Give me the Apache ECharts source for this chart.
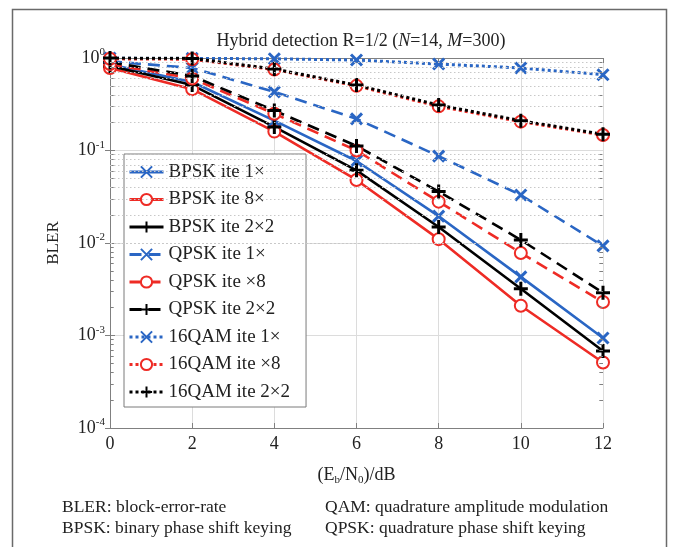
<!DOCTYPE html>
<html><head><meta charset="utf-8">
<script src="https://cdn.jsdelivr.net/npm/echarts@6/dist/echarts.min.js"></script>
<style>html,body{margin:0;padding:0;background:#fff}#c{width:674px;height:547px}</style>
</head><body><div id="c"></div>
<script>
const snr = [0, 2, 4, 6, 8, 10, 12];
const bpsk1  = [0.85, 0.55, 0.21, 0.077, 0.0195, 0.0043, 0.00094];
const bpsk8  = [0.78, 0.46, 0.16, 0.048, 0.011, 0.0021, 0.00051];
const bpsk22 = [0.82, 0.51, 0.18, 0.061, 0.0149, 0.0032, 0.00068];
const qpsk1  = [0.92, 0.78, 0.43, 0.22, 0.087, 0.033, 0.0093];
const qpsk8  = [0.86, 0.60, 0.25, 0.10, 0.028, 0.0078, 0.0023];
const qpsk22 = [0.90, 0.64, 0.27, 0.112, 0.036, 0.0108, 0.0029];
const qam1   = [1.0, 0.99, 0.98, 0.95, 0.86, 0.78, 0.66];
const qam8   = [0.98, 0.97, 0.75, 0.50, 0.30, 0.205, 0.147];
const qam22  = [1.0, 0.99, 0.76, 0.51, 0.31, 0.21, 0.15];
const xTicks = [0, 2, 4, 6, 8, 10, 12];
const minorY = [2e-4,3e-4,4e-4,5e-4,6e-4,7e-4,8e-4,9e-4,2e-3,3e-3,4e-3,5e-3,6e-3,7e-3,8e-3,9e-3,2e-2,3e-2,4e-2,5e-2,6e-2,7e-2,8e-2,9e-2,0.2,0.3,0.4,0.5,0.6,0.7,0.8,0.9];
const names = ['BPSK ite 1×','BPSK ite 8×','BPSK ite 2×2','QPSK ite 1×','QPSK ite ×8','QPSK ite 2×2','16QAM ite 1×','16QAM ite ×8','16QAM ite 2×2'];
const footnotes = ['BLER: block-error-rate', 'BPSK: binary phase shift keying', 'QAM: quadrature amplitude modulation', 'QPSK: quadrature phase shift keying'];

const FONT = 'Liberation Serif';
const BLUE = '#2a66c4', RED = '#ee2b25', BLACK = '#000';
const X_SYM = 'path://M0,0L10,10M10,0L0,10';
const P_SYM = 'path://M5,0L5,10M0,5L10,5';
const DASH = [12, 7], DOT = [3, 3];

function mk(name, vals, color, sym, lineType, lw) {
  const isCircle = sym === 'emptyCircle';
  return {
    name, type: 'line', z: 3,
    data: snr.map((x, i) => [x, vals[i]]),
    symbol: sym,
    symbolSize: isCircle ? 12 : (sym === P_SYM ? 14 : 11),
    showAllSymbol: true,
    lineStyle: { color, width: lw, type: lineType, cap: 'butt' },
    itemStyle: isCircle ? { color, borderColor: color, borderWidth: 2.2 } : { color, borderColor: color, borderWidth: 3 },
    emphasis: { disabled: true }
  };
}
const series = [
  mk(names[0], bpsk1, BLUE, X_SYM, 'solid', 2.6),
  mk(names[1], bpsk8, RED, 'emptyCircle', 'solid', 2.6),
  mk(names[2], bpsk22, BLACK, P_SYM, 'solid', 2.6),
  mk(names[3], qpsk1, BLUE, X_SYM, DASH, 2.6),
  mk(names[4], qpsk8, RED, 'emptyCircle', DASH, 2.6),
  mk(names[5], qpsk22, BLACK, P_SYM, DASH, 2.6),
  mk(names[6], qam1, BLUE, X_SYM, DOT, 3),
  mk(names[7], qam8, RED, 'emptyCircle', DOT, 3),
  mk(names[8], qam22, BLACK, P_SYM, DOT, 3)
];
const legendLW = [3, 3, 3, 3, 3, 3, 3, 3, 3];
const minorTickData = [];
minorY.forEach(v => {
  minorTickData.push([{ coord: [0, v] }, { coord: [0.09, v] }]);
  minorTickData.push([{ coord: [11.91, v] }, { coord: [12, v] }]);
});
series.unshift({
  name: 'grid', type: 'line', data: [], z: 1, silent: true,
  markLine: {
    silent: true, symbol: 'none', animation: false,
    label: { show: false },
    lineStyle: { color: '#c8c8c8', type: [1.5, 2.5], width: 1 },
    data: minorY.map(v => ({ yAxis: v }))
  }
});
series.unshift({
  name: 'mticks', type: 'line', data: [], z: 2, silent: true,
  markLine: {
    silent: true, symbol: 'none', animation: false,
    label: { show: false },
    lineStyle: { color: '#808080', type: 'solid', width: 1 },
    data: minorTickData
  }
});

const chart = echarts.init(document.getElementById('c'), null, { renderer: 'canvas' });
const fnFont = '17.5px "Liberation Serif"';
chart.setOption({
  animation: false,
  backgroundColor: '#fff',
  textStyle: { fontFamily: FONT },
  title: {
    text: '{n|Hybrid detection R=1/2 (}{i|N}{n|=14, }{i|M}{n|=300)}',
    left: 356, top: 27, textAlign: 'center',
    textStyle: { fontWeight: 'normal', rich: {
      n: { fontFamily: FONT, fontSize: 18, fontWeight: 'normal', color: '#222' },
      i: { fontFamily: FONT, fontSize: 18, fontWeight: 'normal', fontStyle: 'italic', color: '#222' }
    } }
  },
  grid: { left: 110, right: 71, top: 58, bottom: 119, containLabel: false },
  legend: {
    data: names.map((n, i) => ({ name: n, lineStyle: { width: legendLW[i] } })),
    orient: 'vertical', left: 124, top: 154,
    itemWidth: 34, itemHeight: 14, itemGap: 8.5, itemTextGap: 4,
    padding: [8.5, 16, 5.5, 4],
    backgroundColor: '#fff', borderColor: '#7a7a7a', borderWidth: 1,
    textStyle: { fontFamily: FONT, fontSize: 19, lineHeight: 19, color: '#222' },
    selectedMode: false
  },
  xAxis: [{
    type: 'value', min: 0, max: 12, interval: 2, position: 'bottom',
    axisLine: { show: true, lineStyle: { color: '#808080', width: 1 } },
    axisTick: { show: true, inside: true, length: 5, lineStyle: { color: '#808080' } },
    axisLabel: { margin: 7, fontFamily: FONT, fontSize: 18, color: '#222' },
    splitLine: { show: true, lineStyle: { color: '#dcdcdc', width: 1 } },
    name: '(E{sub|b}/N{sub|0})/dB', nameLocation: 'middle', nameGap: 37,
    nameTextStyle: { fontFamily: FONT, fontSize: 18, color: '#222', lineHeight: 21,
      rich: { sub: { fontFamily: FONT, fontSize: 11, lineHeight: 9, verticalAlign: 'bottom', color: '#222' } } }
  }, {
    type: 'value', min: 0, max: 12, interval: 2, position: 'top',
    axisLine: { show: true, lineStyle: { color: '#808080', width: 1 } },
    axisTick: { show: true, inside: true, length: 5, lineStyle: { color: '#808080' } },
    axisLabel: { show: false }, splitLine: { show: false }
  }],
  yAxis: [{
    type: 'log', logBase: 10, min: 1e-4, max: 1, position: 'left',
    axisLine: { show: true, lineStyle: { color: '#808080', width: 1 } },
    axisTick: { show: true, inside: true, length: 5, lineStyle: { color: '#808080' } },
    splitLine: { show: true, lineStyle: { color: '#dcdcdc', width: 1 } },
    axisLabel: {
      margin: 5, color: '#222',
      formatter: v => '{b|10}{s|' + Math.round(Math.log10(v)) + '}',
      rich: {
        b: { fontFamily: FONT, fontSize: 18, lineHeight: 22, color: '#222' },
        s: { fontFamily: FONT, fontSize: 11, lineHeight: 11, verticalAlign: 'top', color: '#222' }
      }
    },
    name: 'BLER', nameLocation: 'middle', nameGap: 48, nameRotate: 90,
    nameTextStyle: { fontFamily: FONT, fontSize: 17, color: '#222' }
  }, {
    type: 'log', logBase: 10, min: 1e-4, max: 1, position: 'right',
    axisLine: { show: true, lineStyle: { color: '#808080', width: 1 } },
    axisTick: { show: true, inside: true, length: 5, lineStyle: { color: '#808080' } },
    axisLabel: { show: false }, splitLine: { show: false }
  }],
  graphic: [
    { type: 'rect', left: 10, top: 7, shape: { width: 654, height: 600 }, style: { fill: 'none', stroke: '#6a6a6a', lineWidth: 1.5 }, z: 0, silent: true },
    { type: 'text', x: 62, y: 507, style: { text: footnotes[0], font: fnFont, fill: '#222', verticalAlign: 'middle' } },
    { type: 'text', x: 62, y: 528, style: { text: footnotes[1], font: fnFont, fill: '#222', verticalAlign: 'middle' } },
    { type: 'text', x: 325, y: 507, style: { text: footnotes[2], font: fnFont, fill: '#222', verticalAlign: 'middle' } },
    { type: 'text', x: 325, y: 528, style: { text: footnotes[3], font: fnFont, fill: '#222', verticalAlign: 'middle' } }
  ],
  series
});
</script></body></html>
